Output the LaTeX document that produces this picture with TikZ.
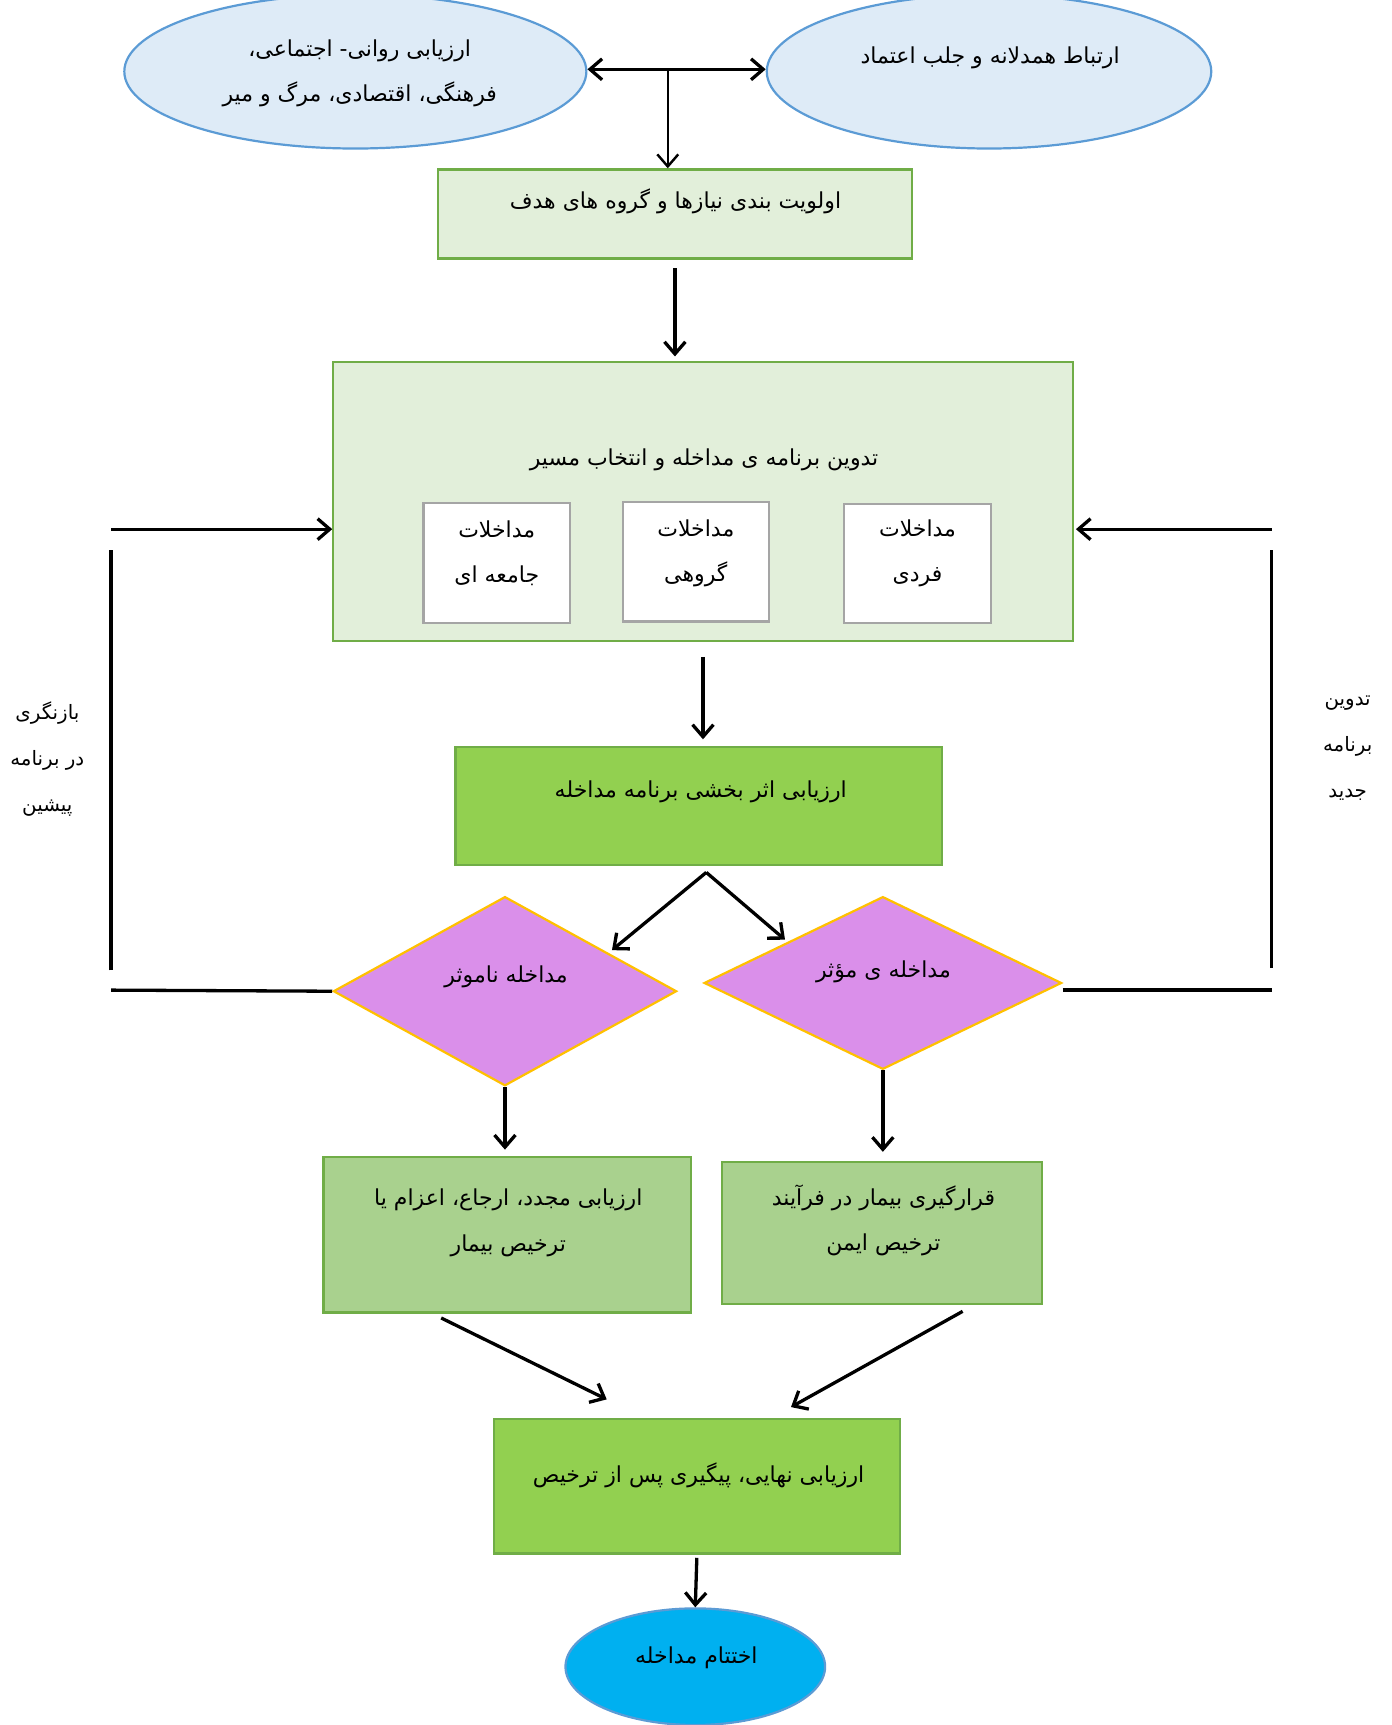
\documentclass[tikz,border=0pt]{standalone}
\usepackage{fontspec}
\usepackage{tikz}
\usetikzlibrary{shapes.geometric, arrows.meta, calc}
\tikzset{>={Straight Barb[length=11pt,width=19pt]}}
\usepackage{xcolor}
\TeXXeTstate=1
\newfontfamily\fafont[Script=Arabic]{DejaVu Sans}
\newcommand{\fatext}[1]{{\beginR #1\endR}}

\definecolor{ellfill}{HTML}{DEEBF7}
\definecolor{ellline}{HTML}{5B9BD5}
\definecolor{palegreen}{HTML}{E2EFDA}
\definecolor{boxline}{HTML}{70AD47}
\definecolor{leafgreen}{HTML}{92D050}
\definecolor{sagegreen}{HTML}{A9D18E}
\definecolor{subline}{HTML}{A5A5A5}
\definecolor{orchid}{HTML}{DA8FEA}
\definecolor{goldline}{HTML}{FFC000}
\definecolor{skyfill}{HTML}{00B0F0}

\tikzset{
  ell/.style={ellipse, draw=ellline, line width=2pt, fill=ellfill, inner sep=0pt},
  box/.style={rectangle, draw=boxline, line width=2pt, inner sep=0pt},
  subbox/.style={rectangle, draw=subline, line width=2pt, fill=white, inner sep=0pt},
  choice/.style={diamond, draw=goldline, line width=2pt, fill=orchid, inner sep=0pt},
  txt/.style={align=center, inner sep=0pt},
  arr/.style={->, line width=3pt},
  line/.style={line width=3pt}
}

\begin{document}
\begin{tikzpicture}[x=1pt, y=-1pt, font=\fontsize{20}{41}\fafont]
\clip (0,0) rectangle (1265,1568);
% top row
\node[ell, minimum width=420pt, minimum height=140pt] (psy) at (323,65) {};
\node[txt] (psy-t) at (327,67) {\fatext{ارزیابی روانی- اجتماعی،}\\\fatext{فرهنگی، اقتصادی، مرگ و میر}};
\node[ell, minimum width=404pt, minimum height=140pt] (emp) at (899,65) {};
\node[txt] (emp-t) at (900,53) {\fatext{ارتباط همدلانه و جلب اعتماد}};
\coordinate (split) at (607,63);
\draw[<->, line width=3pt] (psy.east |- split) -- (emp.west |- split);

\node[box, fill=palegreen, minimum width=431pt, minimum height=81pt] (prio) at (613.5,194.5) {};
\node[txt] (prio-t) at (614,183) {\fatext{اولویت بندی نیازها و گروه های هدف}};
\draw[->, line width=2.2pt] (split) -- (split |- prio.north);

% planning box
\node[box, fill=palegreen, minimum width=672pt, minimum height=254pt] (plan) at (639,456) {};
\node[txt] (plan-t) at (640,418) {\fatext{تدوین برنامه ی مداخله و انتخاب مسیر}};
\node[subbox, minimum width=133pt, minimum height=109pt] (comm) at (451.5,511.5) {};
\node[txt] (comm-t) at (451.5,503) {\fatext{مداخلات}\\\fatext{جامعه ای}};
\node[subbox, minimum width=133pt, minimum height=109pt] (grp) at (632.5,510.5) {};
\node[txt] (grp-t) at (632.5,503) {\fatext{مداخلات}\\\fatext{گروهی}};
\node[subbox, minimum width=134pt, minimum height=108pt] (indiv) at (834,512) {};
\node[txt] (indiv-t) at (834,503) {\fatext{مداخلات}\\\fatext{فردی}};
\draw[arr, shorten <=8pt, shorten >=4pt] (prio.south) -- (prio.south |- plan.north);

% evaluation
\node[box, fill=leafgreen, minimum width=442pt, minimum height=107pt] (eval) at (635,732.5) {};
\node[txt] (eval-t) at (637,720) {\fatext{ارزیابی اثر بخشی برنامه مداخله}};
\draw[arr, shorten <=13pt, shorten >=6pt] (plan.south) -- (plan.south |- eval.north);

\node[choice, minimum width=312pt, minimum height=172pt] (bad) at (459,901) {};
\node[txt] (bad-t) at (460,888) {\fatext{مداخله ناموثر}};
\node[choice, minimum width=325pt, minimum height=157pt] (good) at (802.5,893.5) {};
\node[txt] (good-t) at (803,883) {\fatext{مداخله ی مؤثر}};
\coordinate (fork) at (642,793);
\draw[arr, shorten >=4pt] (fork) -- ($(bad.north)!0.6!(bad.east)$);
\draw[arr, shorten >=3pt] (fork) -- ($(good.north)!0.53!(good.west)$);

% outcomes
\node[box, fill=sagegreen, minimum width=334pt, minimum height=141pt] (redo) at (461,1122.5) {};
\node[txt] (redo-t) at (462,1111.5) {\fatext{ارزیابی مجدد، ارجاع، اعزام یا}\\\fatext{ترخیص بیمار}};
\node[box, fill=sagegreen, minimum width=291pt, minimum height=129pt] (safe) at (801.5,1120.5) {};
\node[txt] (safe-t) at (803,1109.5) {\fatext{قرارگیری بیمار در فرآیند}\\\fatext{ترخیص ایمن}};
\draw[arr, shorten >=6pt] (bad.south) -- (bad.south |- redo.north);
\draw[arr, shorten >=8pt] (good.south) -- (good.south |- safe.north);

\node[box, fill=leafgreen, minimum width=369pt, minimum height=122pt] (final) at (633.5,1351) {};
\node[txt] (final-t) at (635,1341) {\fatext{ارزیابی نهایی، پیگیری پس از ترخیص}};
\draw[arr] ([shift={(-60,4)}]redo.south) -- ([shift={(-82,-17)}]final.north);
\draw[arr] ([shift={(73.5,6)}]safe.south) -- ([shift={(85.5,-10)}]final.north);

\node[ellipse, draw=ellline, line width=2pt, fill=skyfill, inner sep=0pt,
  minimum width=236pt, minimum height=106pt] (stop) at (632,1515) {};
\node[txt] (stop-t) at (633,1507) {\fatext{اختتام مداخله}};
\draw[arr, shorten <=3pt] (final.south) -- (stop.north);

% feedback loops
\coordinate (lbot) at (101,900);
\coordinate (ltop) at (101,481);
\draw[line] (bad.west) -- (lbot);
\draw[line, shorten <=18pt, shorten >=19pt] (lbot) -- (ltop);
\draw[arr] (ltop) -- (ltop -| plan.west);
\node[txt, font=\fontsize{18}{42}\fafont] (back) at (43,690) {\fatext{بازنگری}\\\fatext{در برنامه}\\\fatext{پیشین}};

\coordinate (rbot) at (1156,900);
\coordinate (rtop) at (1156,481);
\draw[line] (rbot -| good.east) -- (rbot);
\draw[line, shorten <=20pt, shorten >=19pt] (rbot) -- (rtop);
\draw[arr, shorten >=2pt] (rtop) -- (rtop -| plan.east);
\node[txt, font=\fontsize{18}{42}\fafont] (new) at (1225,680) {\fatext{تدوین}\\\fatext{برنامه}\\\fatext{جدید}};
\end{tikzpicture}
\end{document}
